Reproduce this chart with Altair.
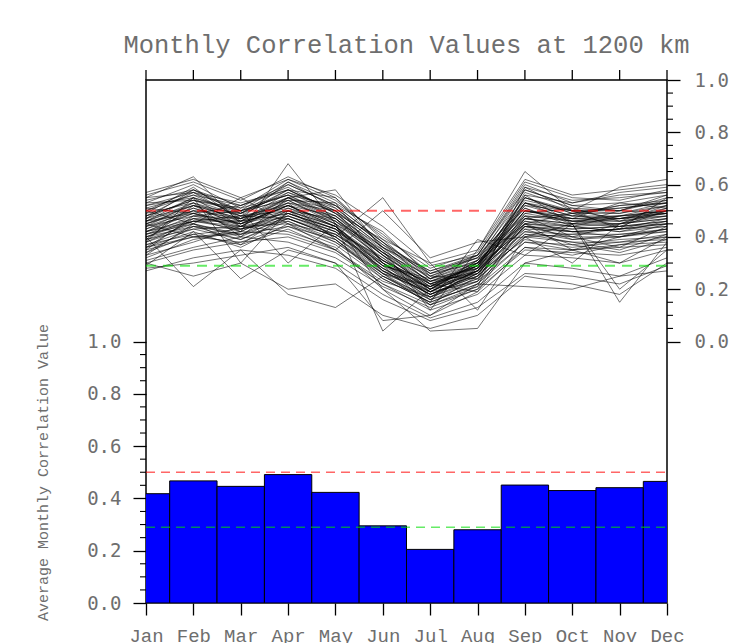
import altair as alt
import pandas as pd

# ---------------- data ----------------
months = ["Jan", "Feb", "Mar", "Apr", "May", "Jun",
          "Jul", "Aug", "Sep", "Oct", "Nov", "Dec"]

# average monthly correlation (bars, left axis)
avg_corr = [0.418, 0.467, 0.446, 0.491, 0.423, 0.295,
            0.205, 0.280, 0.451, 0.430, 0.441, 0.465]

# reference levels (dashed lines)
red_level = 0.50
green_level = 0.29

# per-station monthly correlations (thin lines, right axis)
station_rows = [
    [.45, .52, .47, .55, .48, .33, .22, .27, .50, .46, .48, .50],
    [.40, .44, .43, .47, .40, .28, .18, .25, .42, .41, .43, .45],
    [.50, .58, .49, .60, .52, .38, .25, .31, .58, .52, .50, .55],
    [.35, .40, .41, .44, .37, .24, .15, .22, .38, .37, .39, .40],
    [.47, .55, .44, .53, .50, .30, .19, .29, .55, .49, .51, .53],
    [.38, .46, .46, .50, .43, .27, .21, .30, .46, .44, .42, .44],
    [.53, .60, .51, .62, .54, .40, .28, .34, .61, .55, .54, .58],
    [.30, .35, .38, .40, .34, .22, .12, .18, .33, .32, .30, .35],
    [.44, .50, .42, .51, .46, .35, .23, .26, .48, .47, .46, .49],
    [.41, .48, .47, .53, .39, .25, .16, .28, .44, .40, .45, .47],
    [.55, .57, .53, .58, .50, .36, .27, .32, .56, .53, .56, .57],
    [.36, .42, .36, .45, .41, .30, .18, .24, .40, .38, .35, .41],
    [.48, .54, .50, .56, .47, .31, .20, .30, .52, .50, .49, .52],
    [.33, .38, .44, .42, .36, .20, .10, .19, .36, .33, .37, .38],
    [.46, .53, .48, .50, .44, .29, .24, .33, .51, .45, .47, .50],
    [.39, .45, .40, .48, .42, .32, .19, .23, .43, .42, .40, .43],
    [.51, .56, .52, .59, .49, .34, .22, .29, .53, .48, .52, .54],
    [.28, .30, .33, .36, .30, .18, .09, .15, .30, .28, .25, .32],
    [.43, .49, .45, .52, .45, .27, .17, .27, .47, .44, .45, .48],
    [.37, .43, .39, .46, .38, .26, .21, .31, .45, .39, .41, .42],
    [.49, .59, .46, .57, .51, .37, .24, .28, .57, .51, .50, .56],
    [.42, .46, .48, .47, .41, .29, .14, .25, .44, .43, .44, .46],
    [.52, .55, .50, .54, .53, .41, .26, .30, .50, .47, .53, .51],
    [.34, .41, .37, .43, .35, .23, .17, .26, .39, .36, .38, .39],
    [.45, .51, .45, .49, .43, .30, .20, .29, .49, .46, .46, .48],
    [.40, .47, .42, .50, .44, .31, .22, .27, .46, .42, .43, .47],
    [.56, .61, .54, .63, .55, .39, .30, .35, .62, .56, .58, .60],
    [.31, .36, .40, .38, .32, .21, .13, .20, .35, .34, .33, .36],
    [.47, .52, .49, .55, .47, .33, .21, .28, .50, .48, .47, .51],
    [.38, .44, .41, .47, .40, .27, .18, .25, .41, .40, .40, .43],
    [.44, .48, .44, .52, .45, .32, .20, .31, .47, .45, .44, .46],
    [.27, .32, .35, .33, .28, .16, .08, .13, .26, .25, .22, .29],
    [.50, .56, .48, .58, .49, .35, .23, .30, .55, .49, .49, .53],
    [.42, .47, .46, .49, .42, .28, .19, .27, .45, .43, .44, .45],
    [.36, .40, .38, .44, .39, .26, .16, .23, .38, .35, .37, .40],
    [.48, .54, .51, .56, .48, .34, .25, .32, .53, .50, .51, .53],
    [.41, .46, .43, .48, .41, .28, .18, .26, .44, .42, .43, .44],
    [.54, .58, .52, .60, .52, .38, .26, .33, .59, .54, .55, .57],
    [.32, .39, .42, .41, .35, .22, .14, .21, .36, .35, .36, .37],
    [.46, .52, .47, .54, .46, .31, .22, .29, .50, .47, .48, .50],
    [.30, .25, .30, .20, .22, .10, .05, .10, .25, .22, .18, .30],
    [.38, .55, .30, .50, .40, .55, .30, .12, .40, .45, .15, .38],
    [.45, .40, .42, .68, .45, .20, .04, .05, .30, .35, .30, .40],
    [.55, .63, .45, .55, .58, .35, .12, .35, .65, .50, .59, .62],
    [.29, .42, .24, .35, .30, .08, .10, .22, .21, .20, .25, .27],
    [.50, .45, .55, .45, .35, .50, .32, .38, .40, .30, .45, .50],
    [.40, .21, .35, .18, .13, .25, .15, .39, .33, .45, .20, .35],
    [.35, .48, .50, .30, .45, .04, .20, .30, .45, .35, .40, .45],
    [.43, .51, .46, .53, .47, .34, .23, .28, .52, .47, .47, .49],
    [.39, .43, .44, .45, .38, .25, .17, .24, .40, .41, .41, .43],
    [.46, .55, .49, .58, .50, .36, .24, .31, .54, .50, .50, .54],
    [.41, .45, .41, .49, .43, .31, .20, .27, .45, .44, .42, .46],
    [.52, .57, .50, .61, .51, .37, .27, .33, .58, .52, .53, .56],
    [.37, .41, .43, .46, .39, .24, .15, .22, .41, .38, .38, .41],
    [.45, .50, .47, .51, .44, .29, .19, .28, .48, .46, .47, .48],
    [.49, .53, .46, .55, .46, .33, .21, .29, .53, .48, .48, .52],
    [.34, .44, .39, .47, .40, .26, .19, .27, .42, .39, .40, .42],
    [.57, .62, .55, .62, .56, .44, .29, .33, .60, .53, .57, .59],
    [.42, .49, .45, .52, .44, .30, .21, .26, .47, .45, .45, .47],
    [.40, .46, .44, .48, .42, .27, .18, .26, .44, .42, .43, .45],
    [.47, .58, .50, .56, .52, .42, .25, .24, .49, .51, .46, .52],
    [.44, .53, .40, .55, .50, .38, .22, .19, .45, .49, .44, .50],
    [.51, .49, .43, .50, .47, .33, .17, .23, .56, .45, .50, .49],
    [.36, .47, .45, .52, .48, .36, .26, .32, .48, .40, .36, .44],
    [.48, .57, .47, .61, .53, .30, .16, .21, .59, .50, .43, .55],
    [.42, .50, .49, .57, .49, .39, .24, .30, .51, .44, .48, .49],
    [.39, .52, .44, .54, .45, .34, .20, .25, .53, .46, .45, .51],
    [.53, .54, .48, .52, .44, .26, .14, .20, .47, .49, .52, .53],
    [.33, .45, .37, .49, .43, .29, .23, .29, .43, .37, .34, .39],
    [.46, .49, .52, .58, .55, .36, .19, .27, .55, .50, .47, .49],
]

left_ticks = [0.0, 0.2, 0.4, 0.6, 0.8, 1.0]
right_ticks = [0.0, 0.2, 0.4, 0.6, 0.8, 1.0]
minor_step_count = 20  # 0.05 spacing

# ---------------- tables ----------------
line_records = []
for s, vals in enumerate(station_rows):
    for m, v in enumerate(vals):
        line_records.append({"station": s, "m": m, "v": v})
lines_df = pd.DataFrame(line_records)
bars_df = pd.DataFrame({"m": list(range(12)), "month": months, "avg": avg_corr})
ref_df = pd.DataFrame({"level": [red_level, green_level], "kind": ["red", "green"]})
minor_vals = [round(i / minor_step_count, 2) for i in range(minor_step_count + 1) if i % 4 != 0]
minor_df = pd.DataFrame({"t": minor_vals})
month_df = pd.DataFrame({"m": list(range(12))})

W, H = 521, 523
TXT = "#6e6e6e"
SERIF_MONO = "Liberation Mono"
NUM_FONT = "DejaVu Sans Mono"

X = alt.Scale(domain=[0, 11], nice=False, zero=False)
Y = alt.Scale(domain=[0, 2], nice=False, zero=False)

label_expr = "[" + ",".join("'%s'" % m for m in months) + "][datum.value]"

# bars (left axis)
bars = alt.Chart(bars_df).transform_calculate(
    x0="datum.m - 0.5", x1="datum.m + 0.5"
).mark_bar(color="#0000ff", stroke="black", strokeWidth=1, clip=True).encode(
    x=alt.X("x0:Q", scale=X, axis=alt.Axis(
        values=list(range(12)), labelExpr=label_expr, title=None, orient="bottom",
        tickSize=12, tickColor="black", tickWidth=1.3, domain=False, grid=False,
        labelFont=SERIF_MONO, labelFontSize=19, labelColor=TXT, labelPadding=11,
        labelOverlap=False, labelFlush=False)),
    x2="x1:Q",
    y=alt.Y("avg:Q", scale=Y, axis=alt.Axis(
        orient="left", values=left_ticks, format=".1f", title="Average Monthly Correlation Value",
        tickSize=13, tickColor="black", tickWidth=1.3, domain=False, grid=False,
        labelFont=NUM_FONT, labelFontSize=19, labelColor=TXT, labelPadding=12,
        titleFont=SERIF_MONO, titleFontSize=15, titleColor=TXT, titleFontWeight="normal",
        titleX=-104, titleY=392, titleBaseline="middle", titleAngle=270)),
    y2=alt.datum(0),
)

ref_bottom = alt.Chart(ref_df).mark_rule(strokeWidth=1.5, strokeDash=[9, 6], opacity=0.6).encode(
    y=alt.Y("level:Q", scale=Y, axis=None),
    x=alt.datum(0, scale=X, axis=None), x2=alt.datum(11),
    color=alt.Color("kind:N", scale=alt.Scale(domain=["red", "green"], range=["#ff0000", "#00dd00"]), legend=None),
)

lines = alt.Chart(lines_df).transform_calculate(yy="datum.v + 1").mark_line(
    color="black", strokeWidth=1, opacity=0.55
).encode(
    x=alt.X("m:Q", scale=X, axis=None),
    y=alt.Y("yy:Q", scale=Y, axis=alt.Axis(
        orient="right", values=[t + 1 for t in right_ticks], labelExpr="format(datum.value - 1, '.1f')",
        title=None, tickSize=13, tickColor="black", tickWidth=1.3, domain=False, grid=False,
        labelFont=NUM_FONT, labelFontSize=19, labelColor=TXT, labelPadding=14)),
    detail="station:N",
)

ref_top = alt.Chart(ref_df).transform_calculate(lv="datum.level + 1").mark_rule(
    strokeWidth=2, strokeDash=[10, 7], opacity=0.6
).encode(
    y=alt.Y("lv:Q", scale=Y, axis=None),
    x=alt.datum(0, scale=X, axis=None), x2=alt.datum(11),
    color=alt.Color("kind:N", scale=alt.Scale(domain=["red", "green"], range=["#ff0000", "#00dd00"]), legend=None),
)

minor_left = alt.Chart(minor_df).mark_rule(color="black", strokeWidth=1.1).encode(
    y=alt.Y("t:Q", scale=Y, axis=None), x=alt.value(-6), x2=alt.value(0))

minor_right = alt.Chart(minor_df).transform_calculate(tt="datum.t + 1").mark_rule(
    color="black", strokeWidth=1.1).encode(
    y=alt.Y("tt:Q", scale=Y, axis=None), x=alt.value(W), x2=alt.value(W + 6))

top_ticks = alt.Chart(month_df).mark_rule(color="black", strokeWidth=1.3).encode(
    x=alt.X("m:Q", scale=X, axis=None), y=alt.value(-10), y2=alt.value(0))

chart = alt.layer(
    bars, ref_bottom, lines, ref_top, minor_left, minor_right, top_ticks
).resolve_scale(y="independent", color="independent").resolve_axis(x="independent").properties(
    width=W, height=H,
    autosize=alt.AutoSizeParams(type="none"),
    padding={"left": 146, "top": 80, "right": 70, "bottom": 40},
    title=alt.TitleParams("Monthly Correlation Values at 1200 km", font=SERIF_MONO, fontSize=25.5,
                          color=TXT, fontWeight="normal", anchor="middle", offset=11),
    background="white",
).configure_view(stroke="black", strokeWidth=1.5)

chart.save("out.html", embed_options={"renderer": "svg", "actions": False})
